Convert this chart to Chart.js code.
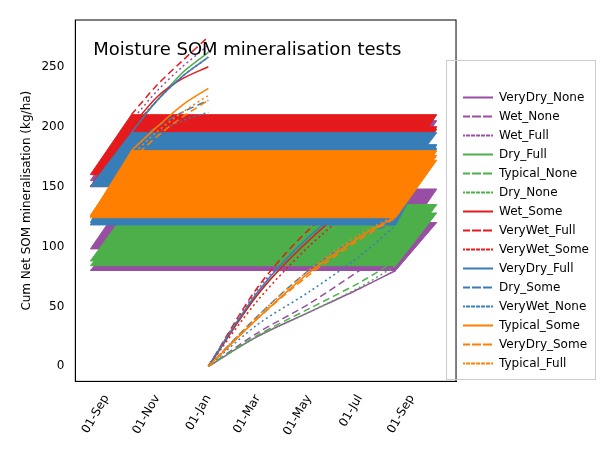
<!DOCTYPE html>
<html>
<head>
<meta charset="utf-8">
<script src="https://cdn.jsdelivr.net/npm/chart.js@4"></script>
<style>
  body { margin: 0; background: #fff; }
  #wrap { width: 615px; height: 461px; }
</style>
</head>
<body>
<div id="wrap"><canvas id="c"></canvas></div>
<script>
// days counted from 01-Jan of the season year (negative = previous year)
const mainDays = [0, 59, 120, 181, 224];       // 01-Jan .. 13-Aug
const tailDays = [-92, -61, -31, 0];           // 01-Oct(prev) .. 01-Jan
const bandLeft = -141, bandRight = 273;        // 13-Aug(prev), 01-Oct
const tickDays = [-122, -61, 0, 59, 120, 181, 243];
const tickLabels = ["01-Sep", "01-Nov", "01-Jan", "01-Mar", "01-May", "01-Jul", "01-Sep"];

const seriesNames = ["VeryDry_None", "Wet_None", "Wet_Full", "Dry_Full", "Typical_None", "Dry_None",
  "Wet_Some", "VeryWet_Full", "VeryWet_Some", "VeryDry_Full", "Dry_Some", "VeryWet_None",
  "Typical_Some", "VeryDry_Some", "Typical_Full"];
const seriesColors = ["#984ea3", "#984ea3", "#984ea3", "#4daf4a", "#4daf4a", "#4daf4a",
  "#e41a1c", "#e41a1c", "#e41a1c", "#377eb8", "#377eb8", "#377eb8",
  "#ff7f00", "#ff7f00", "#ff7f00"];
const seriesDash = [[], [7, 4], [2, 3], [], [7, 4], [2, 3], [], [7, 4], [2, 3], [], [7, 4], [2, 3], [], [7, 4], [2, 3]];
const seriesOrder = [5, 5, 5, 4, 4, 4, 3, 3, 3, 2, 2, 2, 1, 1, 1];

// cumulative values at mainDays
const mainValues = [
  [0, 25, 45, 65, 80],
  [0, 28, 52, 80, 98],
  [0, 64, 110, 142, 155],
  [0, 60, 105, 138, 150],
  [0, 26, 48, 70, 88],
  [0, 25, 45, 66, 84],
  [0, 60, 105, 140, 150],
  [0, 66, 114, 146, 160],
  [0, 55, 100, 135, 150],
  [0, 62, 108, 140, 150],
  [0, 42, 80, 108, 120],
  [0, 35, 62, 92, 118],
  [0, 40, 78, 108, 125],
  [0, 40, 76, 106, 124],
  [0, 42, 80, 110, 126]
];
// values at tailDays (01-Oct .. 01-Jan)
const tailValues = [
  [120, 135, 145, 152],
  [148, 165, 178, 188],
  [205, 230, 250, 268],
  [198, 222, 245, 262],
  [135, 150, 162, 172],
  [128, 143, 155, 165],
  [200, 225, 240, 250],
  [210, 235, 255, 275],
  [198, 222, 242, 258],
  [195, 222, 242, 258],
  [185, 200, 212, 222],
  [182, 195, 205, 212],
  [180, 200, 218, 232],
  [172, 192, 208, 222],
  [176, 196, 212, 226]
];

const datasets = [];
seriesNames.forEach((name, i) => {
  const pts = mainDays.map((d, k) => ({ x: d, y: mainValues[i][k] }));
  pts.push({ x: 250, y: null });
  tailDays.forEach((d, k) => pts.push({ x: d, y: tailValues[i][k] }));
  datasets.push({
    label: name, data: pts, borderColor: seriesColors[i], backgroundColor: seriesColors[i],
    borderDash: seriesDash[i], borderWidth: 1.5, pointRadius: 0, fill: false,
    spanGaps: false, tension: 0.3, order: seriesOrder[i] + 0.5
  });
});
seriesNames.forEach((name, i) => {
  const v0 = mainValues[i][4], v1 = tailValues[i][0];
  datasets.push({
    label: "_band", data: [
      { x: bandLeft, y: v0 }, { x: mainDays[4], y: v0 }, { x: bandRight, y: v1 },
      { x: tailDays[0], y: v1 }, { x: bandLeft, y: v0 }
    ],
    borderColor: seriesColors[i], backgroundColor: seriesColors[i], borderWidth: 1,
    pointRadius: 0, fill: "shape", order: seriesOrder[i]
  });
});

const extras = {
  id: "extras",
  afterDraw(chart) {
    const { ctx, chartArea: a } = chart;
    ctx.save();
    ctx.strokeStyle = "#000"; ctx.lineWidth = 1;
    ctx.strokeRect(a.left, a.top, a.right - a.left, a.bottom - a.top);
    ctx.strokeStyle = "#ccc";
    ctx.strokeRect(446.5, 60.5, 149, 319);
    ctx.fillStyle = "#000";
    ctx.font = "18px 'DejaVu Sans'";
    ctx.textBaseline = "middle";
    ctx.fillText("Moisture SOM mineralisation tests", a.left + 18, a.top + 30);
    ctx.restore();
  }
};

new Chart(document.getElementById("c"), {
  type: "line",
  data: { datasets },
  plugins: [extras],
  options: {
    responsive: true, maintainAspectRatio: false, animation: false,
    layout: { padding: { top: 20, right: 16, bottom: 20, left: 16 } },
    plugins: {
      title: { display: false },
      tooltip: { enabled: false },
      legend: {
        position: "right",
        labels: {
          font: { family: "DejaVu Sans", size: 12 }, color: "#222",
          boxWidth: 30, boxHeight: 0, padding: 7,
          filter: item => item.text !== "_band",
          generateLabels(chart) {
            return chart.data.datasets.map((ds, i) => ({
              text: ds.label, fillStyle: ds.borderColor, strokeStyle: ds.borderColor,
              lineWidth: 2, lineDash: ds.borderDash, datasetIndex: i
            }));
          }
        }
      }
    },
    scales: {
      x: {
        type: "linear", min: -159, max: 296,
        grid: { display: false },
        border: { color: "#000" },
        afterBuildTicks(axis) { axis.ticks = tickDays.map(v => ({ value: v })); },
        ticks: {
          autoSkip: false, maxRotation: 60, minRotation: 60, color: "#000",
          font: { family: "DejaVu Sans", size: 12 },
          callback: v => tickLabels[tickDays.indexOf(v)]
        }
      },
      y: {
        min: -12.5, max: 289,
        grid: { display: false },
        border: { color: "#000" },
        afterBuildTicks(axis) { axis.ticks = [0, 50, 100, 150, 200, 250].map(v => ({ value: v })); },
        ticks: { color: "#000", font: { family: "DejaVu Sans", size: 12 } },
        title: { display: true, text: "Cum Net SOM mineralisation (kg/ha)", color: "#000",
                 font: { family: "DejaVu Sans", size: 12 } }
      }
    }
  }
});
</script>
</body>
</html>
